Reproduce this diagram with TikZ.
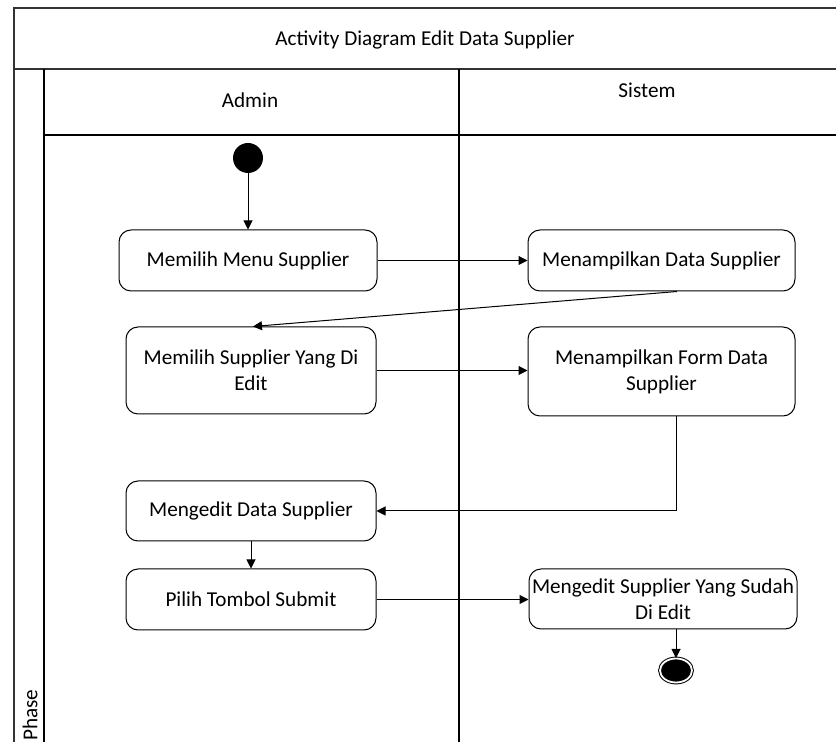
\documentclass[tikz,border=0pt]{standalone}
\usepackage{fontspec}
\setmainfont{Carlito}
\usetikzlibrary{arrows.meta,shapes.geometric}
\begin{document}
\begin{tikzpicture}
        [x=0.5pt,y=-0.5pt,
        every node/.style={font=\fontsize{10.6}{13}\selectfont},
        act/.style={draw=black,rounded corners=6pt,line width=0.5pt,align=center,inner sep=1pt},
        leftact/.style={act,minimum width=125pt},
        rightact/.style={act,minimum width=133.5pt},
        flow/.style={-{Triangle[length=4.5pt,width=4.5pt]},line width=0.5pt},
        frame/.style={line width=1pt,draw=black!80},
        lane/.style={line width=0.6pt,draw=black}]
        \useasboundingbox (0,0) rectangle (836,742);
        % swimlanes
        \draw[frame] (836,8) -- (14,8) -- (14,742);
        \draw[frame] (14,69) -- (836,69);
        \draw[lane] (44,69) -- (44,742);
        \draw[lane] (44,135) -- (836,135);
        \draw[lane] (459,69) -- (459,742);
        \node (title) at (425,40) {Activity Diagram Edit Data Supplier};
        \node (admin) at (250,100) {Admin};
        \node (sistem) at (647,90) {Sistem};
        \node[rotate=90,anchor=west,inner sep=0pt] (phase) at (30,741) {Phase};
        % activities
        \node[circle,fill=black,minimum size=15pt,inner sep=0pt] (start) at (248,158) {};
        \node[act,minimum width=129pt,minimum height=30.5pt] (menuSup) at (248,260.5) {Memilih Menu Supplier};
        \node[rightact,minimum height=30.5pt] (dataSup) at (661.5,260.5) {Menampilkan Data Supplier};
        \node[leftact,minimum height=43.5pt] (pilihSup) at (251,370.5) {Memilih Supplier Yang Di\\Edit};
        \node[rightact,minimum height=44.5pt] (formSup) at (661.5,371.5) {Menampilkan Form Data\\Supplier};
        \node[leftact,minimum height=30pt] (editData) at (251,511) {Mengedit Data Supplier};
        \node[leftact,minimum height=30.5pt] (submit) at (251,599.5) {Pilih Tombol Submit};
        \node[act,minimum width=134pt,minimum height=30pt] (editSup) at (663,599) {Mengedit Supplier Yang Sudah\\Di Edit};
        \node[ellipse,fill=black,draw=black,double=white,double distance=0.9pt,line width=0.5pt,
          minimum width=16pt,minimum height=12pt,inner sep=0pt] (finish) at (676,670.5) {};
        % flows
        \draw[flow] (start) -- (menuSup);
        \draw[flow] (menuSup) -- (dataSup);
        \draw[flow] ([xshift=7.75pt]dataSup.south) -- ([xshift=1pt]pilihSup.north);
        \draw[flow] (pilihSup) -- (formSup.west |- pilihSup);
        \draw[flow] ([xshift=7.25pt]formSup.south) |- (editData.east);
        \draw[flow] (editData) -- (submit);
        \draw[flow] (submit) -- (editSup.west |- submit);
        \draw[flow] (finish.north |- editSup.south) -- (finish);
\end{tikzpicture}
\end{document}
